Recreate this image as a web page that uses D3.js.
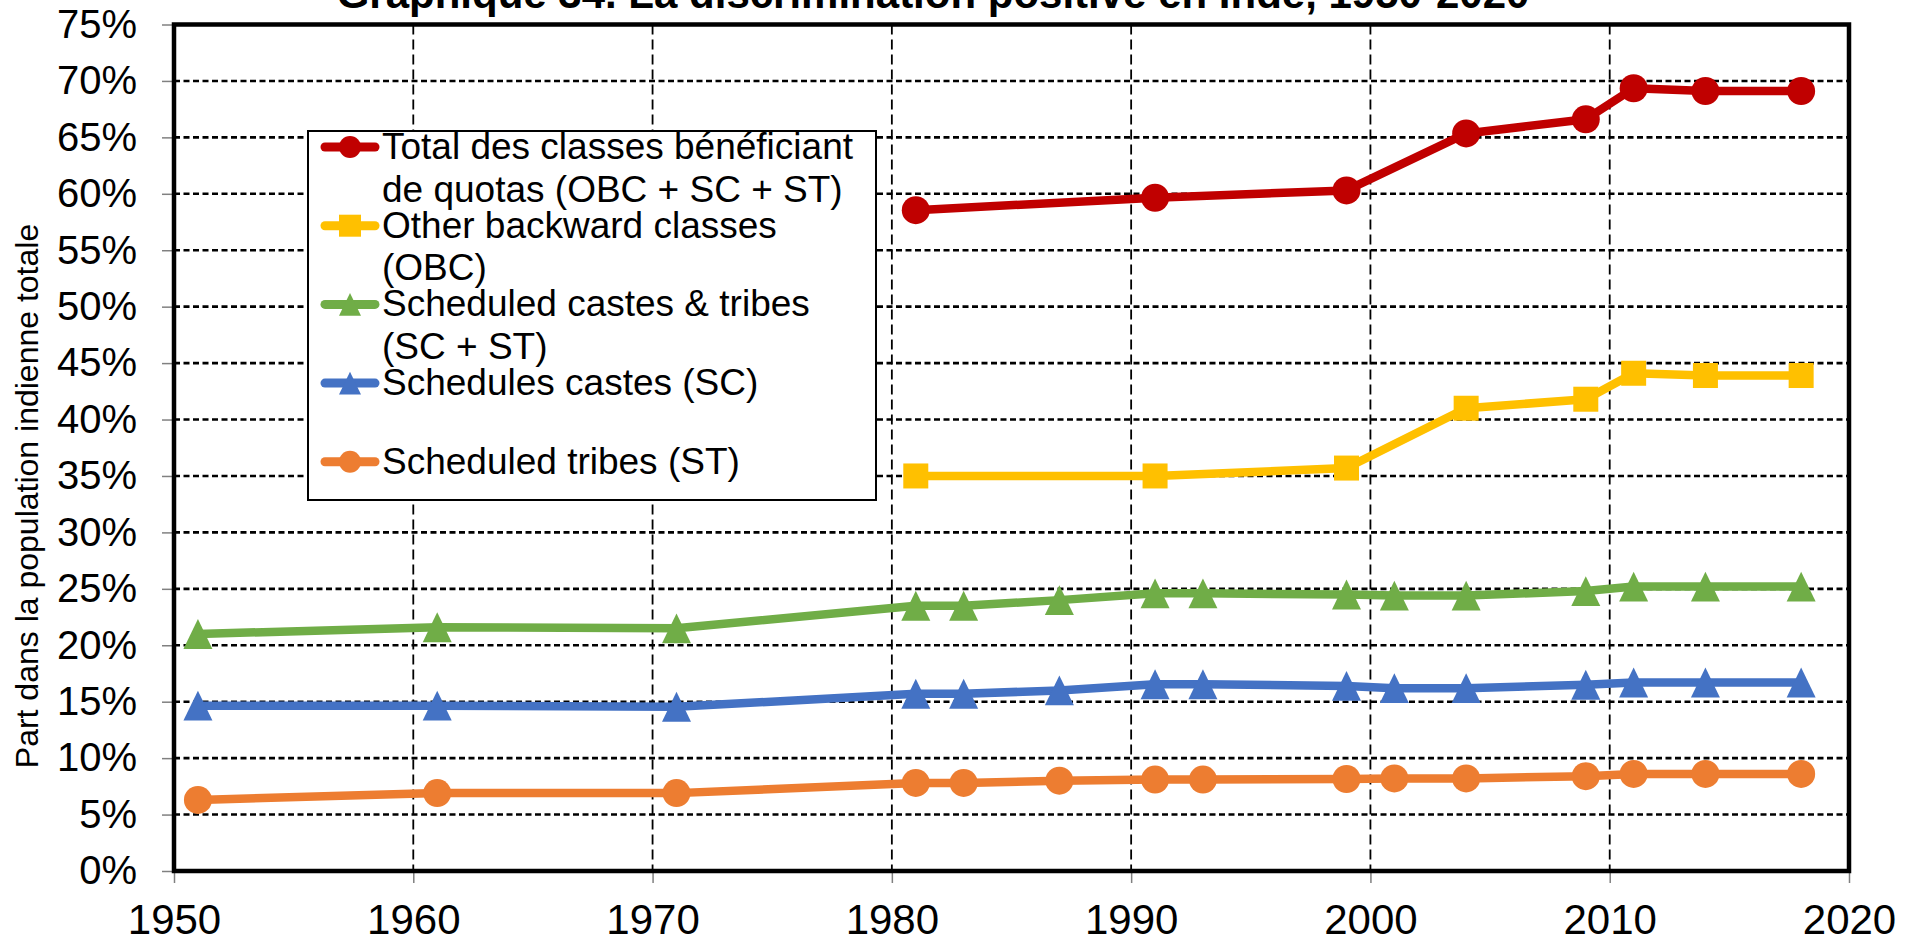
<!DOCTYPE html>
<html><head><meta charset="utf-8">
<script src="https://cdn.jsdelivr.net/npm/d3@7"></script>
<style>body{margin:0;background:#fff} svg{display:block}</style>
</head><body><svg id="c" width="1916" height="942"></svg>
<script>
// ---- data ----
const titleText = "Graphique 34. La discrimination positive en Inde, 1950-2020";
const yAxisTitle = "Part dans la population indienne totale";
const yearsLong = [1951,1961,1971,1981,1983,1987,1991,1993,1999,2001,2004,2009,2011,2014,2018];
const valuesST   = [6.3,6.9,6.9,7.8,7.8,8.0,8.1,8.1,8.15,8.2,8.2,8.4,8.6,8.6,8.6];
const valuesSC   = [14.65,14.65,14.55,15.7,15.7,16.0,16.55,16.55,16.4,16.2,16.2,16.5,16.7,16.7,16.7];
const valuesSCST = [21.0,21.6,21.5,23.5,23.5,24.0,24.6,24.6,24.5,24.4,24.4,24.8,25.2,25.2,25.2];
const yearsShort = [1981,1991,1999,2004,2009,2011,2014,2018];
const valuesOBC   = [35.0,35.0,35.7,41.0,41.8,44.1,43.9,43.9];
const valuesTotal = [58.55,59.65,60.3,65.35,66.6,69.35,69.1,69.1];
const xTickValues = [1950,1960,1970,1980,1990,2000,2010,2020];
const yTickValues = [0,5,10,15,20,25,30,35,40,45,50,55,60,65,70,75];
const seriesNames = [
  ["Total des classes bénéficiant","de quotas (OBC + SC + ST)"],
  ["Other backward classes","(OBC)"],
  ["Scheduled castes & tribes","(SC + ST)"],
  ["Schedules castes (SC)"],
  ["Scheduled tribes (ST)"]
];
const seriesColors = ["#C00000","#FFC000","#70AD47","#4472C4","#ED7D31"];
const seriesMarkers = ["circle","square","triangle","triangle","circle"];
const seriesYears = [yearsShort, yearsShort, yearsLong, yearsLong, yearsLong];
const seriesValues = [valuesTotal, valuesOBC, valuesSCST, valuesSC, valuesST];

// ---- chart ----
const FONT = "'Liberation Sans', Arial, Helvetica, sans-serif";
const svg = d3.select("#c");
const L = 174, R = 1849, T = 24.5, B = 871;
const x = d3.scaleLinear().domain([1950,2020]).range([L,R]);
const y = d3.scaleLinear().domain([0,75]).range([B,T]);

// gridlines
svg.append("g").selectAll("line").data(yTickValues).join("line")
  .attr("x1",L).attr("x2",R).attr("y1",d=>y(d)).attr("y2",d=>y(d))
  .attr("stroke","#000").attr("stroke-width",2.6).attr("stroke-dasharray","6,3.5");
svg.append("g").selectAll("line").data(xTickValues).join("line")
  .attr("y1",T).attr("y2",B).attr("x1",d=>x(d)).attr("x2",d=>x(d))
  .attr("stroke","#000").attr("stroke-width",1.8).attr("stroke-dasharray","10,5");

// axes
const yAxis = svg.append("g").attr("transform",`translate(${L},0)`)
  .call(d3.axisLeft(y).tickValues(yTickValues).tickFormat(d=>d+"%").tickSize(12).tickPadding(25));
const xAxis = svg.append("g").attr("transform",`translate(0,${B})`)
  .call(d3.axisBottom(x).tickValues(xTickValues).tickFormat(d3.format("d")).tickSize(12).tickPadding(21));
[yAxis,xAxis].forEach(g=>{
  g.select(".domain").remove();
  g.selectAll(".tick line").attr("stroke","#808080").attr("stroke-width",1.5);
  g.selectAll(".tick text").attr("fill","#000").style("font-family",FONT);
});
yAxis.selectAll(".tick text").style("font-size","40px");
xAxis.selectAll(".tick text").style("font-size","42px");

// border
svg.append("rect").attr("x",L).attr("y",T).attr("width",R-L).attr("height",B-T)
  .attr("fill","none").attr("stroke","#000").attr("stroke-width",4.5);

// markers
function drawMarker(g, type, cx, cy, color, s){
  if(type==="circle"){
    g.append("circle").attr("cx",cx).attr("cy",cy).attr("r",s/2).attr("fill",color);
  } else if(type==="square"){
    g.append("rect").attr("x",cx-s/2).attr("y",cy-s/2).attr("width",s).attr("height",s).attr("fill",color);
  } else {
    const h = s*1.03, w = s;
    g.append("path").attr("d",`M${cx},${cy-h/2}L${cx+w/2},${cy+h/2}L${cx-w/2},${cy+h/2}Z`).attr("fill",color);
  }
}
const markerSize = {circle:28, square:25, triangle:29};

// series
const line = d3.line().x(d=>x(d[0])).y(d=>y(d[1]));
seriesValues.forEach((vals,i)=>{
  const pts = seriesYears[i].map((yr,j)=>[yr,vals[j]]);
  const g = svg.append("g");
  g.append("path").datum(pts).attr("d",line).attr("fill","none")
    .attr("stroke",seriesColors[i]).attr("stroke-width",8.5).attr("stroke-linejoin","round");
  pts.forEach(p=>drawMarker(g, seriesMarkers[i], x(p[0]), y(p[1]), seriesColors[i], markerSize[seriesMarkers[i]]));
});

// legend
const lg = svg.append("g");
lg.append("rect").attr("x",308).attr("y",131).attr("width",568).attr("height",369)
  .attr("fill","#fff").attr("stroke","#000").attr("stroke-width",2);
seriesNames.forEach((lines,i)=>{
  const cy = 147 + i*78.7;
  lg.append("line").attr("x1",325).attr("x2",375).attr("y1",cy).attr("y2",cy)
    .attr("stroke",seriesColors[i]).attr("stroke-width",9).attr("stroke-linecap","round");
  drawMarker(lg, seriesMarkers[i], 350, cy, seriesColors[i], 22);
  lines.forEach((t,k)=>{
    lg.append("text").attr("x",382).attr("y",cy+12+k*42.5).text(t)
      .style("font-family",FONT).style("font-size","37px").attr("fill","#000");
  });
});

// titles
svg.append("text").attr("x",933).attr("y",8).attr("text-anchor","middle")
  .style("font-family",FONT).style("font-size","42px").style("font-weight","bold").text(titleText);
svg.append("text").attr("transform","translate(38,496) rotate(-90)").attr("text-anchor","middle")
  .style("font-family",FONT).style("font-size","32px").text(yAxisTitle);
</script></body></html>
